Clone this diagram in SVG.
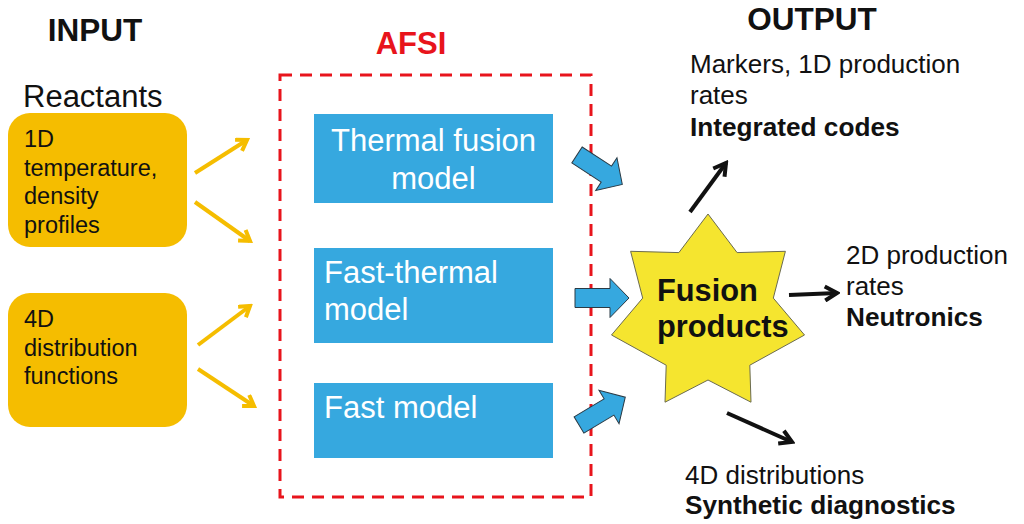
<svg xmlns="http://www.w3.org/2000/svg" width="1024" height="524" viewBox="0 0 1024 524">
  <style>
    text { font-family: "Liberation Sans", Arial, sans-serif; }
    .head { font-size: 31.5px; font-weight: bold; fill: #111; }
    .afsi { font-size: 31px; font-weight: bold; fill: #E8141C; }
    .reac { font-size: 31px; fill: #111; }
    .inp { fill: #F5BD00; }
    .inptxt { font-size: 23.5px; fill: #111; }
    .model { fill: #36A8DF; }
    .modeltxt { font-size: 31px; fill: #fff; }
    .out { font-size: 26px; fill: #111; }
    .outb { font-size: 26.2px; font-weight: bold; fill: #111; }
    .star { fill: #F5E52F; stroke: #6b6b50; stroke-width: 1; }
    .startxt { font-size: 30.8px; font-weight: bold; fill: #111; }
    .frame { fill: none; stroke: #E8141C; stroke-width: 3; stroke-dasharray: 12 8; }
    .yarrow { stroke: #F5BD00; stroke-width: 4; fill: none; marker-end: url(#yhead); }
    .karrow { stroke: #111; stroke-width: 4; fill: none; marker-end: url(#khead); }
    .block { fill: #36A8DF; stroke: #2b3a44; stroke-width: 1; }
  </style>
  <defs>
    <marker id="yhead" markerUnits="userSpaceOnUse" viewBox="0 0 16 16" markerWidth="16" markerHeight="16" refX="13" refY="8" orient="auto">
      <path d="M3,1.5 L13,8 L3,14.5" fill="none" stroke="#F5BD00" stroke-width="4"/>
    </marker>
    <marker id="khead" markerUnits="userSpaceOnUse" viewBox="0 0 18 18" markerWidth="18" markerHeight="18" refX="15" refY="9" orient="auto">
      <path d="M3,2 L15,9 L3,16" fill="none" stroke="#111" stroke-width="4"/>
    </marker>
    <path id="blockArrow" d="M0,-9.5 L35,-9.5 L35,-19.5 L54,0 L35,19.5 L35,9.5 L0,9.5 Z"/>
  </defs>

  <!-- column headings -->
  <text class="head" x="95" y="41" text-anchor="middle">INPUT</text>
  <text class="afsi" x="411" y="54" text-anchor="middle">AFSI</text>
  <text class="head" x="812" y="30" text-anchor="middle">OUTPUT</text>
  <text class="reac" x="23" y="107">Reactants</text>

  <!-- AFSI frame -->
  <rect class="frame" x="280" y="75" width="311" height="422"/>

  <!-- input nodes -->
  <g id="input-1d">
    <rect class="inp" x="8" y="113" width="179" height="134" rx="22"/>
    <text class="inptxt" x="24" y="147">1D</text>
    <text class="inptxt" x="24" y="176">temperature,</text>
    <text class="inptxt" x="24" y="204">density</text>
    <text class="inptxt" x="24" y="233">profiles</text>
  </g>
  <g id="input-4d">
    <rect class="inp" x="8" y="293" width="179" height="134" rx="22"/>
    <text class="inptxt" x="24" y="327">4D</text>
    <text class="inptxt" x="24" y="356">distribution</text>
    <text class="inptxt" x="24" y="384">functions</text>
  </g>

  <!-- model nodes -->
  <g id="thermal-model">
    <rect class="model" x="314" y="114" width="239" height="89"/>
    <text class="modeltxt" x="433.5" y="151" text-anchor="middle">Thermal fusion</text>
    <text class="modeltxt" x="433.5" y="189" text-anchor="middle">model</text>
  </g>
  <g id="fast-thermal-model">
    <rect class="model" x="314" y="248" width="239" height="95"/>
    <text class="modeltxt" x="324" y="283">Fast-thermal</text>
    <text class="modeltxt" x="324" y="320">model</text>
  </g>
  <g id="fast-model">
    <rect class="model" x="314" y="383" width="239" height="75"/>
    <text class="modeltxt" x="324" y="418">Fast model</text>
  </g>

  <!-- fusion products -->
  <g id="fusion-products">
    <polygon class="star" transform="translate(708,313)" points="0,-99 29.1,-60.4 77.4,-61.7 65.3,-14.9 96.5,22 41.8,52.2 43,89.2 0,67 -43,89.2 -41.8,52.2 -96.5,22 -65.3,-14.9 -77.4,-61.7 -29.1,-60.4"/>
    <text class="startxt" x="657" y="301">Fusion</text>
    <text class="startxt" x="657" y="337">products</text>
  </g>

  <!-- output nodes -->
  <g id="output-integrated">
    <text class="out" x="690" y="73">Markers, 1D production</text>
    <text class="out" x="690" y="104">rates</text>
    <text class="outb" x="690" y="136">Integrated codes</text>
  </g>
  <g id="output-neutronics">
    <text class="out" x="846" y="264">2D production</text>
    <text class="out" x="846" y="295">rates</text>
    <text class="outb" x="846" y="326">Neutronics</text>
  </g>
  <g id="output-diagnostics">
    <text class="out" x="685" y="484">4D distributions</text>
    <text class="outb" x="685" y="514">Synthetic diagnostics</text>
  </g>

  <!-- connectors -->
  <g id="connectors">
    <path class="yarrow" d="M195,173 L247,140"/>
    <path class="yarrow" d="M195,202 L250,241"/>
    <path class="yarrow" d="M198,345 L250,306"/>
    <path class="yarrow" d="M198,369 L254,406"/>

    <use href="#blockArrow" class="block" transform="translate(577,155) rotate(33)"/>
    <use href="#blockArrow" class="block" transform="translate(575,298)"/>
    <use href="#blockArrow" class="block" transform="translate(579,425) rotate(-31)"/>

    <path class="karrow" d="M690,212 L726,163"/>
    <path class="karrow" d="M789,295 L837,293"/>
    <path class="karrow" d="M727,413 L792,442"/>
  </g>
</svg>
